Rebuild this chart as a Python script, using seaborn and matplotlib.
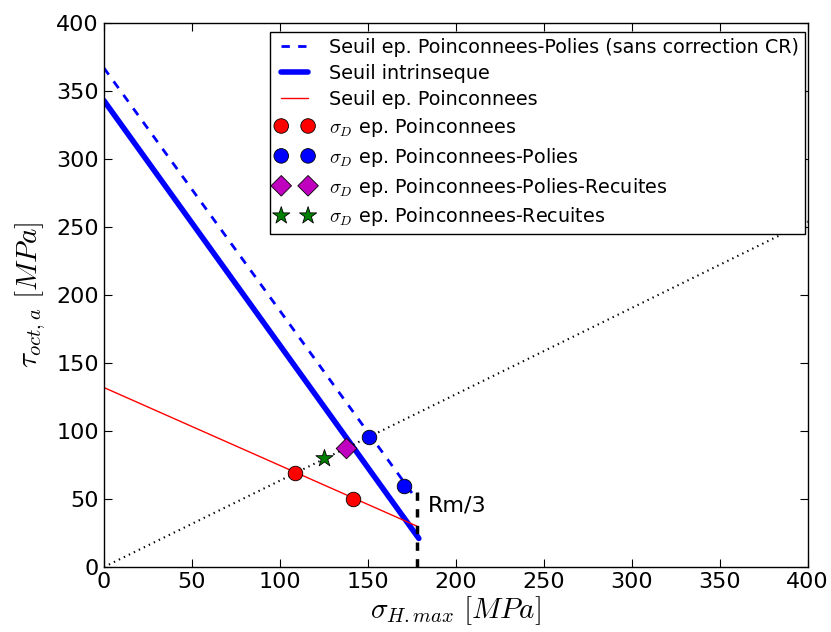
import numpy as np
import matplotlib
matplotlib.use("Agg")
import matplotlib.pyplot as plt
import seaborn as sns

# seuils (MPa)
x_seuil_polies = [0, 177]
y_seuil_polies = [367, 51]
x_seuil_intr = [0, 179]
y_seuil_intr = [343, 21]
x_seuil_poinc = [0, 178]
y_seuil_poinc = [132, 30]
x_diag = [0, 400]
y_diag = [0, 254]
x_rm3 = [178, 178]
y_rm3 = [0, 55]

# points sigma_D
x_poinc = [108.5, 141.5]
y_poinc = [69, 50]
x_polies = [150.6, 170.5]
y_polies = [95.6, 59.6]
x_polies_rec = [137.5]
y_polies_rec = [87.5]
x_rec = [125]
y_rec = [80]

sns.set_style("ticks")
plt.rcParams['font.family'] = ['DejaVu Sans']
plt.rcParams['mathtext.fontset'] = 'cm'
plt.rcParams['text.color'] = 'black'
plt.rcParams['axes.labelcolor'] = 'black'
plt.rcParams['xtick.direction'] = 'in'
plt.rcParams['ytick.direction'] = 'in'
plt.rcParams['xtick.top'] = True
plt.rcParams['ytick.right'] = True
# tirets "classiques"
plt.rcParams['lines.scale_dashes'] = False
plt.rcParams['lines.dashed_pattern'] = [6, 6]
plt.rcParams['lines.dotted_pattern'] = [1, 3]

fig = plt.figure(figsize=(8.31, 6.32), dpi=100)
ax = fig.add_axes([0.125, 0.1028, 0.847, 0.8608])

sns.lineplot(x=x_seuil_polies, y=y_seuil_polies, ax=ax, color='blue', lw=2,
             linestyle='--', estimator=None, sort=False,
             label='Seuil ep. Poinconnees-Polies (sans correction CR)')
sns.lineplot(x=x_seuil_intr, y=y_seuil_intr, ax=ax, color='blue', lw=4,
             estimator=None, sort=False, label='Seuil intrinseque')
sns.lineplot(x=x_seuil_poinc, y=y_seuil_poinc, ax=ax, color='red', lw=1,
             estimator=None, sort=False, label='Seuil ep. Poinconnees')
sns.lineplot(x=x_diag, y=y_diag, ax=ax, color='black', lw=1.5, linestyle=':',
             estimator=None, sort=False)
sns.lineplot(x=x_rm3, y=y_rm3, ax=ax, color='black', lw=2.5, linestyle='--',
             estimator=None, sort=False)

sns.scatterplot(x=x_poinc, y=y_poinc, ax=ax, color='red', marker='o', s=110,
                edgecolor='black', linewidth=0.6, zorder=5,
                label=r'$\sigma_D$ ep. Poinconnees')
sns.scatterplot(x=x_polies, y=y_polies, ax=ax, color='blue', marker='o', s=110,
                edgecolor='black', linewidth=0.6, zorder=5,
                label=r'$\sigma_D$ ep. Poinconnees-Polies')
sns.scatterplot(x=x_polies_rec, y=y_polies_rec, ax=ax, color='m', marker='D', s=110,
                edgecolor='black', linewidth=0.6, zorder=5,
                label=r'$\sigma_D$ ep. Poinconnees-Polies-Recuites')
sns.scatterplot(x=x_rec, y=y_rec, ax=ax, color='green', marker='*', s=170,
                edgecolor='black', linewidth=0.6, zorder=5,
                label=r'$\sigma_D$ ep. Poinconnees-Recuites')

ax.text(184, 45, 'Rm/3', fontsize=16, va='center', ha='left')

ax.set_xlim(0, 400)
ax.set_ylim(0, 400)
ax.set_xticks(np.arange(0, 401, 50))
ax.set_yticks(np.arange(0, 401, 50))
ax.tick_params(labelsize=16, length=6, width=0.8, colors='black')
for sp in ax.spines.values():
    sp.set_color('black')
    sp.set_linewidth(1)
ax.set_xlabel(r'$\sigma_{H.max}\ [MPa]$', fontsize=21, labelpad=2)
ax.set_ylabel(r'$\tau_{oct,a}\ [MPa]$', fontsize=21, labelpad=6)

leg = ax.legend(loc='upper right', bbox_to_anchor=(0.996, 0.983),
                fontsize=13.8, numpoints=2, scatterpoints=2, scatteryoffsets=[0.5],
                fancybox=False, framealpha=1, edgecolor='black',
                borderaxespad=0, borderpad=0.3, labelspacing=0.36,
                handlelength=2.0, handletextpad=0.8)
leg.get_frame().set_linewidth(1)

fig.savefig('out.png', dpi=100)
